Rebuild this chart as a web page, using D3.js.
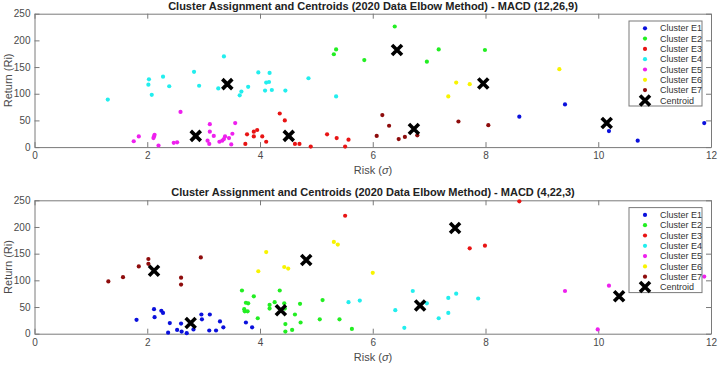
<!DOCTYPE html>
<html>
<head>
<meta charset="utf-8">
<script src="https://cdn.jsdelivr.net/npm/d3@7"></script>
<style>
  body { margin: 0; background: #fff; }
  svg { display: block; font-family: "Liberation Sans", Arial, sans-serif; }
</style>
</head>
<body>
<svg width="719" height="366"></svg>
<script>
// cluster names and colours (MATLAB-ish gscatter palette)
var clusters = ["Cluster E1", "Cluster E2", "Cluster E3", "Cluster E4", "Cluster E5", "Cluster E6", "Cluster E7"];
var colors = ["#0a10dc", "#22ee22", "#e81414", "#22eeee", "#ee20ee", "#f8f400", "#8e0c0c"];
var xTicks = [0, 2, 4, 6, 8, 10, 12];
var yTicks = [0, 50, 100, 150, 200, 250];

// --- MACD (12,26,9) : [risk, return] per cluster
var top_E1 = [[8.60, 57], [9.41, 80], [10.19, 30], [10.70, 12], [11.88, 45]];
var top_E2 = [[5.31, 174], [5.35, 183], [5.85, 163], [6.39, 226], [6.96, 160], [7.17, 183], [7.99, 182]];
var top_E3 = [[3.74, 6], [3.77, 24], [3.89, 29], [3.89, 20], [3.95, 32], [4.04, 20], [4.11, 10], [4.35, 63],
              [4.44, 50], [4.62, 6], [4.70, 6], [4.90, 1], [5.19, 24], [5.36, 17], [5.51, 1], [5.57, 14]];
var top_E4 = [[1.30, 89], [2.02, 117], [2.03, 127], [2.08, 98], [2.28, 132], [2.39, 114], [2.83, 141], [2.92, 115],
              [3.26, 110], [3.36, 170], [3.64, 97], [3.67, 104], [3.79, 113], [3.97, 140], [4.17, 139], [4.11, 121],
              [4.16, 122], [4.09, 106], [4.21, 107], [4.45, 106], [4.86, 129], [5.35, 95]];
var top_E5 = [[1.76, 11], [1.85, 20], [2.11, 17], [2.12, 20], [2.13, 23], [2.20, 3], [2.47, 8], [2.53, 9], [2.59, 66],
              [3.07, 12], [3.10, 6], [3.11, 29], [3.11, 43], [3.18, 21], [3.28, 10], [3.33, 12], [3.36, 15],
              [3.38, 20], [3.45, 17], [3.49, 5], [3.51, 25], [3.56, 45]];
var top_E6 = [[7.34, 95], [7.48, 121], [7.72, 118], [9.31, 146]];
var top_E7 = [[6.07, 21], [6.17, 60], [6.29, 40], [6.46, 15], [6.57, 19], [6.79, 22], [7.52, 48], [8.05, 41]];
var top_centroids = [[10.15, 45], [6.43, 182], [4.51, 21], [3.42, 118], [2.86, 21], [7.96, 119], [6.73, 34]];

// --- MACD (4,22,3)
var bot_E1 = [[1.81, 26], [2.12, 46], [2.13, 31], [2.25, 43], [2.28, 39], [2.37, 2], [2.40, 20], [2.53, 7],
              [2.60, 19], [2.61, 4], [2.70, 1], [2.82, 8], [2.96, 36], [2.97, 27], [3.10, 6], [3.11, 36],
              [3.22, 6], [3.29, 23], [3.35, 12], [3.75, 21], [3.86, 12]];
var bot_E2 = [[3.68, 81], [3.75, 58], [3.79, 57], [3.72, 46], [3.73, 42], [3.78, 42], [3.89, 70], [3.96, 29],
              [4.17, 54], [4.17, 47], [4.26, 59], [4.35, 81], [4.43, 57], [4.44, 47], [4.45, 18], [4.45, 4],
              [4.57, 7], [4.62, 36], [4.71, 56], [4.72, 21], [5.06, 27], [5.11, 63], [5.41, 27], [5.63, 9]];
var bot_E3 = [[5.51, 221], [7.72, 160], [7.99, 165], [8.60, 248]];
var bot_E4 = [[5.57, 59], [5.77, 62], [6.40, 44], [6.56, 11], [6.71, 80], [6.96, 57], [7.17, 29], [7.34, 39],
              [7.34, 67], [7.48, 75], [7.87, 66]];
var bot_E5 = [[9.41, 80], [9.99, 8], [10.19, 90], [11.88, 107]];
var bot_E6 = [[3.97, 117], [4.11, 153], [4.43, 125], [4.50, 122], [5.31, 172], [5.38, 167], [6.00, 114]];
var bot_E7 = [[1.31, 98], [1.57, 106], [1.85, 126], [2.02, 140], [2.02, 131], [2.60, 105], [2.60, 92], [2.95, 143]];
var bot_centroids = [[2.77, 20], [4.37, 44], [7.46, 198], [6.84, 53], [10.37, 70], [4.82, 138], [2.12, 118]];

var svg = d3.select("svg");
var axisColor = "#7a7a7a", labelColor = "#4a4a4a";
var xMark = "M-5,-5L5,5M-5,5L5,-5";

function drawPanel(top, title, groups, centroids) {
  var bottom = top + 133.4;
  var x = d3.scaleLinear().domain([0, 12]).range([34.5, 711]);
  var y = d3.scaleLinear().domain([0, 250]).range([bottom, top]);
  var g = svg.append("g");

  g.append("g").attr("transform", "translate(0," + bottom + ")")
    .call(d3.axisBottom(x).tickValues(xTicks).tickSize(-5).tickSizeOuter(0).tickPadding(5));
  g.append("g").attr("transform", "translate(34.5,0)")
    .call(d3.axisLeft(y).tickValues(yTicks).tickSize(-5).tickSizeOuter(0).tickPadding(4));
  g.append("g").attr("transform", "translate(0," + top + ")")
    .call(d3.axisTop(x).tickValues(xTicks).tickSize(-5).tickSizeOuter(0).tickFormat(""));
  g.append("g").attr("transform", "translate(711,0)")
    .call(d3.axisRight(y).tickValues(yTicks).tickSize(-5).tickSizeOuter(0).tickFormat(""));

  g.selectAll(".domain, .tick line").attr("stroke", axisColor);
  g.selectAll(".tick text").attr("fill", labelColor).attr("font-size", 10)
    .attr("font-family", "Liberation Sans, Arial, sans-serif");

  // points
  groups.forEach(function(pts, i) {
    g.append("g").selectAll("circle").data(pts).enter().append("circle")
      .attr("cx", function(d) { return x(d[0]); })
      .attr("cy", function(d) { return y(d[1]); })
      .attr("r", 2.1)
      .attr("fill", colors[i]);
  });

  // centroids
  g.append("g").selectAll("path").data(centroids).enter().append("path")
    .attr("d", xMark)
    .attr("transform", function(d) { return "translate(" + x(d[0]) + "," + y(d[1]) + ")"; })
    .attr("stroke", "#000").attr("stroke-width", 3.6).attr("fill", "none");

  // title & labels
  g.append("text").attr("x", 373).attr("y", top - 7.7).attr("dy", "0.35em")
    .attr("text-anchor", "middle").attr("font-weight", "bold").attr("font-size", 11)
    .attr("fill", "#222").text(title);
  var xl = g.append("text").attr("x", 373).attr("y", bottom + 23).attr("dy", "0.35em")
    .attr("text-anchor", "middle").attr("font-size", 11).attr("fill", labelColor);
  xl.append("tspan").text("Risk (");
  xl.append("tspan").attr("font-style", "italic").text("\u03c3");
  xl.append("tspan").text(")");
  g.append("text").attr("transform", "translate(8," + (top + bottom) / 2 + ") rotate(-90)")
    .attr("dy", "0.35em").attr("text-anchor", "middle").attr("font-size", 11)
    .attr("fill", labelColor).text("Return (Ri)");

  // legend
  var lg = g.append("g").attr("transform", "translate(629," + (top + 7.3) + ")");
  lg.append("rect").attr("width", 73).attr("height", 85)
    .attr("fill", "#fff").attr("stroke", axisColor).attr("stroke-width", 1);
  clusters.forEach(function(name, i) {
    var ly = 7.3 + i * 10.3;
    lg.append("circle").attr("cx", 16).attr("cy", ly).attr("r", 2.1).attr("fill", colors[i]);
    lg.append("text").attr("x", 31).attr("y", ly).attr("dy", "0.35em")
      .attr("font-size", 9).attr("fill", "#333").text(name);
  });
  var cy = 7.3 + 7 * 10.3;
  lg.append("path").attr("d", xMark).attr("transform", "translate(16," + cy + ")")
    .attr("stroke", "#000").attr("stroke-width", 3.6).attr("fill", "none");
  lg.append("text").attr("x", 31).attr("y", cy).attr("dy", "0.35em")
    .attr("font-size", 9).attr("fill", "#333").text("Centroid");
}

drawPanel(13.7, "Cluster Assignment and Centroids (2020 Data Elbow Method) - MACD (12,26,9)",
  [top_E1, top_E2, top_E3, top_E4, top_E5, top_E6, top_E7], top_centroids);
drawPanel(200.3, "Cluster Assignment and Centroids (2020 Data Elbow Method) - MACD (4,22,3)",
  [bot_E1, bot_E2, bot_E3, bot_E4, bot_E5, bot_E6, bot_E7], bot_centroids);
</script>
</body>
</html>
